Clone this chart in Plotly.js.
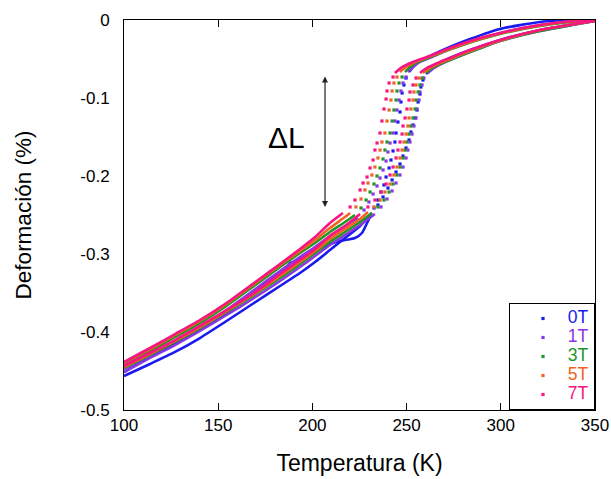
<!DOCTYPE html>
<html><head><meta charset="utf-8">
<script src="https://cdn.plot.ly/plotly-3.0.1.min.js"></script>
<style>html,body{margin:0;padding:0;background:#fff;}#chart{width:611px;height:479px;}</style>
</head><body><div id="chart"></div>
<script>
// ---------- data (Temperature K, Deformation %) ----------
const fieldNames = ['0T','1T','3T','5T','7T'];
const fieldColors = ['#1a1aee','#8c35e6','#22942a','#f26322','#f7157f'];

// 0T
const T0_coolLow  = [100,113.8,127.1,140.3,153.6,169.0,180.1,185.5,188.1,190.8,193.4,201.4,209.3,217.3,222.6,226.3,228.5,230.6];
const S0_coolLow  = [-0.4513,-0.4321,-0.4154,-0.3974,-0.3769,-0.3500,-0.3295,-0.3205,-0.3115,-0.3103,-0.3064,-0.2962,-0.2872,-0.2821,-0.2795,-0.2731,-0.2628,-0.2526];
const T0_coolDots = [232.7,234.8,236.4,238.0,239.1,240.7,241.7,242.8,243.8,244.4,245.4,246.5,247.0,247.6,248.6,249.7];
const S0_coolDots = [-0.2410,-0.2308,-0.2205,-0.2115,-0.2013,-0.1897,-0.1795,-0.1679,-0.1564,-0.1449,-0.1308,-0.1179,-0.1051,-0.0936,-0.0833,-0.0744];
const T0_coolHigh = [251.3,253.9,257.1,263.5,273.0,283.7,299.6,320.8,336.7,350.0];
const S0_coolHigh = [-0.0667,-0.0590,-0.0526,-0.0449,-0.0346,-0.0244,-0.0115,-0.0026,0,0];
const T0_heatLow  = [100,113.8,127.1,140.3,153.6,169.0,182.8,193.4,201.4,209.3,217.3,225.3,231.6];
const S0_heatLow  = [-0.4564,-0.4410,-0.4256,-0.4077,-0.3872,-0.3628,-0.3410,-0.3244,-0.3103,-0.2949,-0.2795,-0.2641,-0.2474];
const T0_heatDots = [234.8,237.5,240.1,242.3,244.4,246.5,248.1,249.7,251.3,252.3,253.4,254.5,255.5,256.1,257.1,257.6,258.7];
const S0_heatDots = [-0.2372,-0.2269,-0.2154,-0.2051,-0.1949,-0.1846,-0.1744,-0.1641,-0.1538,-0.1436,-0.1346,-0.1256,-0.1154,-0.1051,-0.0949,-0.0859,-0.0769];
const T0_heatHigh = [260.3,263.5,267.7,273.0,283.7,299.6,320.8,339.4,350.0];
const S0_heatHigh = [-0.0692,-0.0628,-0.0551,-0.0487,-0.0385,-0.0256,-0.0128,-0.0051,-0.0013];

// 1T
const T1_coolLow  = [100,113.8,127.1,140.3,153.6,169.0,182.8,193.4,201.4,209.3,217.3,224.2];
const S1_coolLow  = [-0.4474,-0.4295,-0.4115,-0.3936,-0.3731,-0.3462,-0.3218,-0.3038,-0.2910,-0.2769,-0.2641,-0.2538];
const T1_coolDots = [227.4,230.0,232.2,234.3,235.9,237.5,239.1,240.1,241.2,242.8,243.8,244.9,246.0,247.0,248.1,249.7];
const S1_coolDots = [-0.2436,-0.2333,-0.2231,-0.2128,-0.2026,-0.1923,-0.1808,-0.1692,-0.1577,-0.1449,-0.1295,-0.1154,-0.1026,-0.0910,-0.0808,-0.0731];
const T1_coolHigh = [250.7,253.4,257.1,263.5,273.0,283.7,299.6,320.8,339.4,350.0];
const S1_coolHigh = [-0.0667,-0.0603,-0.0538,-0.0474,-0.0372,-0.0282,-0.0167,-0.0064,-0.0013,0];
const T1_heatLow  = [100,113.8,127.1,140.3,153.6,169.0,182.8,193.4,201.4,209.3,217.3,225.3,233.2];
const S1_heatLow  = [-0.4513,-0.4333,-0.4167,-0.3987,-0.3795,-0.3564,-0.3346,-0.3167,-0.3026,-0.2885,-0.2756,-0.2628,-0.2487];
const T1_heatDots = [236.4,239.6,242.3,244.4,246.5,248.1,249.7,250.7,251.8,252.9,253.9,255.0,255.5,256.6,257.1,258.2,259.2];
const S1_heatDots = [-0.2397,-0.2295,-0.2192,-0.2090,-0.1987,-0.1885,-0.1769,-0.1667,-0.1564,-0.1462,-0.1359,-0.1256,-0.1141,-0.1026,-0.0923,-0.0833,-0.0744];
const T1_heatHigh = [261.4,264.5,268.3,273.0,283.7,299.6,320.8,339.4,350.0];
const S1_heatHigh = [-0.0679,-0.0615,-0.0564,-0.0513,-0.0410,-0.0269,-0.0141,-0.0058,-0.0013];

// 3T
const T3_coolLow  = [100,113.8,127.1,140.3,153.6,169.0,182.8,193.4,201.4,209.3,217.3,222.6];
const S3_coolLow  = [-0.4423,-0.4244,-0.4064,-0.3885,-0.3679,-0.3410,-0.3167,-0.2987,-0.2859,-0.2718,-0.2590,-0.2500];
const T3_coolDots = [225.8,228.5,230.6,232.7,234.3,235.9,237.5,238.5,239.6,241.2,242.3,243.3,244.4,244.9,246.0,247.6];
const S3_coolDots = [-0.2410,-0.2308,-0.2205,-0.2103,-0.2000,-0.1897,-0.1782,-0.1667,-0.1564,-0.1449,-0.1295,-0.1154,-0.1026,-0.0910,-0.0808,-0.0731];
const T3_coolHigh = [249.2,251.8,256.1,262.4,273.0,283.7,299.6,320.8,339.4,350.0];
const S3_coolHigh = [-0.0667,-0.0603,-0.0538,-0.0474,-0.0378,-0.0288,-0.0179,-0.0077,-0.0019,0];
const T3_heatLow  = [100,113.8,127.1,140.3,153.6,169.0,182.8,193.4,201.4,209.3,217.3,225.3,231.6];
const S3_heatLow  = [-0.4462,-0.4295,-0.4128,-0.3949,-0.3756,-0.3526,-0.3308,-0.3128,-0.2987,-0.2846,-0.2718,-0.2590,-0.2474];
const T3_heatDots = [234.8,238.0,240.7,242.8,244.9,246.5,248.1,249.2,250.2,251.3,252.3,253.4,254.5,255.0,256.1,257.1,258.2];
const S3_heatDots = [-0.2397,-0.2308,-0.2205,-0.2103,-0.1987,-0.1885,-0.1769,-0.1667,-0.1564,-0.1462,-0.1359,-0.1256,-0.1141,-0.1026,-0.0923,-0.0833,-0.0744];
const T3_heatHigh = [260.3,263.5,267.7,273.0,283.7,299.6,320.8,339.4,350.0];
const S3_heatHigh = [-0.0679,-0.0615,-0.0564,-0.0513,-0.0410,-0.0269,-0.0141,-0.0058,-0.0013];

// 5T
const T5_coolLow  = [100,113.8,127.1,140.3,153.6,169.0,182.8,193.4,201.4,209.3,217.3,220.0];
const S5_coolLow  = [-0.4397,-0.4218,-0.4038,-0.3859,-0.3654,-0.3385,-0.3141,-0.2962,-0.2821,-0.2667,-0.2526,-0.2474];
const T5_coolDots = [223.1,225.8,227.9,229.5,231.6,233.2,234.8,235.9,236.9,238.5,239.6,240.7,241.7,242.3,243.3,244.9];
const S5_coolDots = [-0.2397,-0.2295,-0.2179,-0.2090,-0.1987,-0.1885,-0.1769,-0.1667,-0.1564,-0.1449,-0.1295,-0.1154,-0.1026,-0.0910,-0.0808,-0.0731];
const T5_coolHigh = [246.5,249.7,254.5,260.8,273.0,283.7,299.6,320.8,339.4,350.0];
const S5_coolHigh = [-0.0667,-0.0603,-0.0538,-0.0481,-0.0372,-0.0282,-0.0173,-0.0071,-0.0013,0];
const T5_heatLow  = [100,113.8,127.1,140.3,153.6,169.0,182.8,193.4,201.4,209.3,217.3,225.3,229.5];
const S5_heatLow  = [-0.4449,-0.4282,-0.4115,-0.3936,-0.3744,-0.3513,-0.3282,-0.3103,-0.2962,-0.2808,-0.2679,-0.2551,-0.2462];
const T5_heatDots = [232.7,235.9,238.5,241.2,243.3,244.9,246.5,247.6,248.6,249.7,250.7,251.3,252.3,253.4,253.9,255.0,256.6];
const S5_heatDots = [-0.2397,-0.2308,-0.2205,-0.2103,-0.1987,-0.1885,-0.1769,-0.1667,-0.1564,-0.1462,-0.1359,-0.1256,-0.1141,-0.1026,-0.0923,-0.0833,-0.0744];
const T5_heatHigh = [258.7,262.4,267.7,273.0,283.7,299.6,320.8,339.4,350.0];
const S5_heatHigh = [-0.0679,-0.0615,-0.0551,-0.0500,-0.0397,-0.0263,-0.0128,-0.0051,-0.0013];

// 7T
const T7_coolLow  = [100,113.8,127.1,140.3,153.6,169.0,182.8,193.4,201.4,209.3,216.2];
const S7_coolLow  = [-0.4385,-0.4205,-0.4026,-0.3846,-0.3641,-0.3372,-0.3128,-0.2936,-0.2782,-0.2603,-0.2474];
const T7_coolDots = [220.0,222.6,225.3,226.9,229.0,230.6,232.2,233.2,234.3,235.9,236.9,238.0,239.1,239.6,240.7,242.8];
const S7_coolDots = [-0.2397,-0.2308,-0.2179,-0.2090,-0.2013,-0.1897,-0.1795,-0.1667,-0.1577,-0.1449,-0.1295,-0.1141,-0.1013,-0.0910,-0.0808,-0.0731];
const T7_coolHigh = [243.8,247.6,253.4,260.8,273.0,283.7,299.6,320.8,339.4,350.0];
const S7_coolHigh = [-0.0679,-0.0603,-0.0538,-0.0474,-0.0359,-0.0269,-0.0167,-0.0064,-0.0013,0];
const T7_heatLow  = [100,113.8,127.1,140.3,153.6,169.0,182.8,193.4,201.4,209.3,217.3,225.3];
const S7_heatLow  = [-0.4436,-0.4269,-0.4103,-0.3923,-0.3731,-0.3500,-0.3256,-0.3077,-0.2936,-0.2769,-0.2641,-0.2487];
const T7_heatDots = [229.5,233.2,236.4,239.1,241.2,242.8,244.4,245.4,246.5,247.6,248.1,249.2,250.2,251.3,251.8,253.4,255.0];
const S7_heatDots = [-0.2397,-0.2308,-0.2205,-0.2103,-0.1987,-0.1885,-0.1769,-0.1667,-0.1564,-0.1462,-0.1359,-0.1256,-0.1141,-0.1026,-0.0923,-0.0833,-0.0744];
const T7_heatHigh = [257.1,260.8,267.7,273.0,283.7,299.6,320.8,339.4,350.0];
const S7_heatHigh = [-0.0679,-0.0615,-0.0538,-0.0487,-0.0385,-0.0256,-0.0128,-0.0051,-0.0013];

const xTickVals = [100,150,200,250,300,350];
const xTickText = ['100','150','200','250','300','350'];
const yTickVals = [0,-0.1,-0.2,-0.3,-0.4,-0.5];
const yTickText = ['0','-0.1','-0.2','-0.3','-0.4','-0.5'];

// annotation anchors (data units)
const arrowT = 206.7, arrowTop = -0.0705, arrowBottom = -0.2397;
const labelT = 186.0, labelS = -0.151;

// ---------- build traces ----------
const series = [
  [T0_coolLow,S0_coolLow,T0_coolDots,S0_coolDots,T0_coolHigh,S0_coolHigh,T0_heatLow,S0_heatLow,T0_heatDots,S0_heatDots,T0_heatHigh,S0_heatHigh],
  [T1_coolLow,S1_coolLow,T1_coolDots,S1_coolDots,T1_coolHigh,S1_coolHigh,T1_heatLow,S1_heatLow,T1_heatDots,S1_heatDots,T1_heatHigh,S1_heatHigh],
  [T3_coolLow,S3_coolLow,T3_coolDots,S3_coolDots,T3_coolHigh,S3_coolHigh,T3_heatLow,S3_heatLow,T3_heatDots,S3_heatDots,T3_heatHigh,S3_heatHigh],
  [T5_coolLow,S5_coolLow,T5_coolDots,S5_coolDots,T5_coolHigh,S5_coolHigh,T5_heatLow,S5_heatLow,T5_heatDots,S5_heatDots,T5_heatHigh,S5_heatHigh],
  [T7_coolLow,S7_coolLow,T7_coolDots,S7_coolDots,T7_coolHigh,S7_coolHigh,T7_heatLow,S7_heatLow,T7_heatDots,S7_heatDots,T7_heatHigh,S7_heatHigh]
];

const traces = [];
series.forEach((s, i) => {
  const c = fieldColors[i];
  for (let k = 0; k < 12; k += 2) {
    const isDots = (k === 2 || k === 8);
    const t = {
      x: s[k], y: s[k+1], type: 'scatter',
      showlegend: false, hoverinfo: 'skip',
      name: '<span style="color:' + c + ';font-size:17.5px">\u00a0' + fieldNames[i] + '</span>'
    };
    if (isDots) {
      t.mode = 'markers';
      t.marker = {color: c, size: 3.2, symbol: 'square'};
      if (k === 2) t.showlegend = true;
    } else {
      t.mode = 'lines';
      t.line = {color: c, width: 2.6, shape: 'spline', smoothing: 0.6};
    }
    traces.push(t);
  }
});

const font = 'Arial, "Liberation Sans", sans-serif';
const layout = {
  width: 611, height: 479,
  margin: {l: 124, r: 16, t: 20, b: 69},
  paper_bgcolor: '#fff', plot_bgcolor: '#fff',
  font: {family: font, color: '#000', size: 15},
  showlegend: true,
  legend: {
    x: 1, xanchor: 'right', y: 0, yanchor: 'bottom',
    bordercolor: '#000', borderwidth: 1, bgcolor: '#fff',
    font: {family: font, size: 11.5}, tracegroupgap: 0, indentation: 13,
    traceorder: 'normal'
  },
  xaxis: {
    range: [100, 350], tickmode: 'array', tickvals: xTickVals, ticktext: xTickText,
    ticks: 'inside', ticklen: 7, tickcolor: '#000', tickwidth: 1,
    showline: true, linecolor: '#000', linewidth: 1, mirror: 'ticks',
    showgrid: false, zeroline: false,
    tickfont: {family: font, size: 17, color: '#000'},
    title: {text: 'Temperatura (K)', font: {family: font, size: 23, color: '#000'}, standoff: 20}
  },
  yaxis: {
    range: [-0.5, 0], tickmode: 'array', tickvals: yTickVals, ticktext: yTickText,
    ticks: '', showline: true, linecolor: '#000', linewidth: 1, mirror: true,
    showgrid: false, zeroline: false, ticklabelstandoff: 10,
    tickfont: {family: font, size: 17, color: '#000'},
    title: {text: 'Deformación (%)', font: {family: font, size: 22.5, color: '#000'}, standoff: 42}
  },
  annotations: [
    {x: arrowT, y: arrowBottom, ax: arrowT, ay: arrowTop, xref: 'x', yref: 'y', axref: 'x', ayref: 'y',
     text: '', showarrow: true, arrowhead: 2, startarrowhead: 2, arrowside: 'end+start',
     arrowsize: 1, startarrowsize: 1, arrowwidth: 1.2, arrowcolor: '#222'},
    {x: labelT, y: labelS, xref: 'x', yref: 'y', text: 'ΔL', showarrow: false,
     font: {family: font, size: 30, color: '#000'}}
  ]
};

Plotly.newPlot('chart', traces, layout, {displayModeBar: false, staticPlot: true});
</script>
</body></html>
